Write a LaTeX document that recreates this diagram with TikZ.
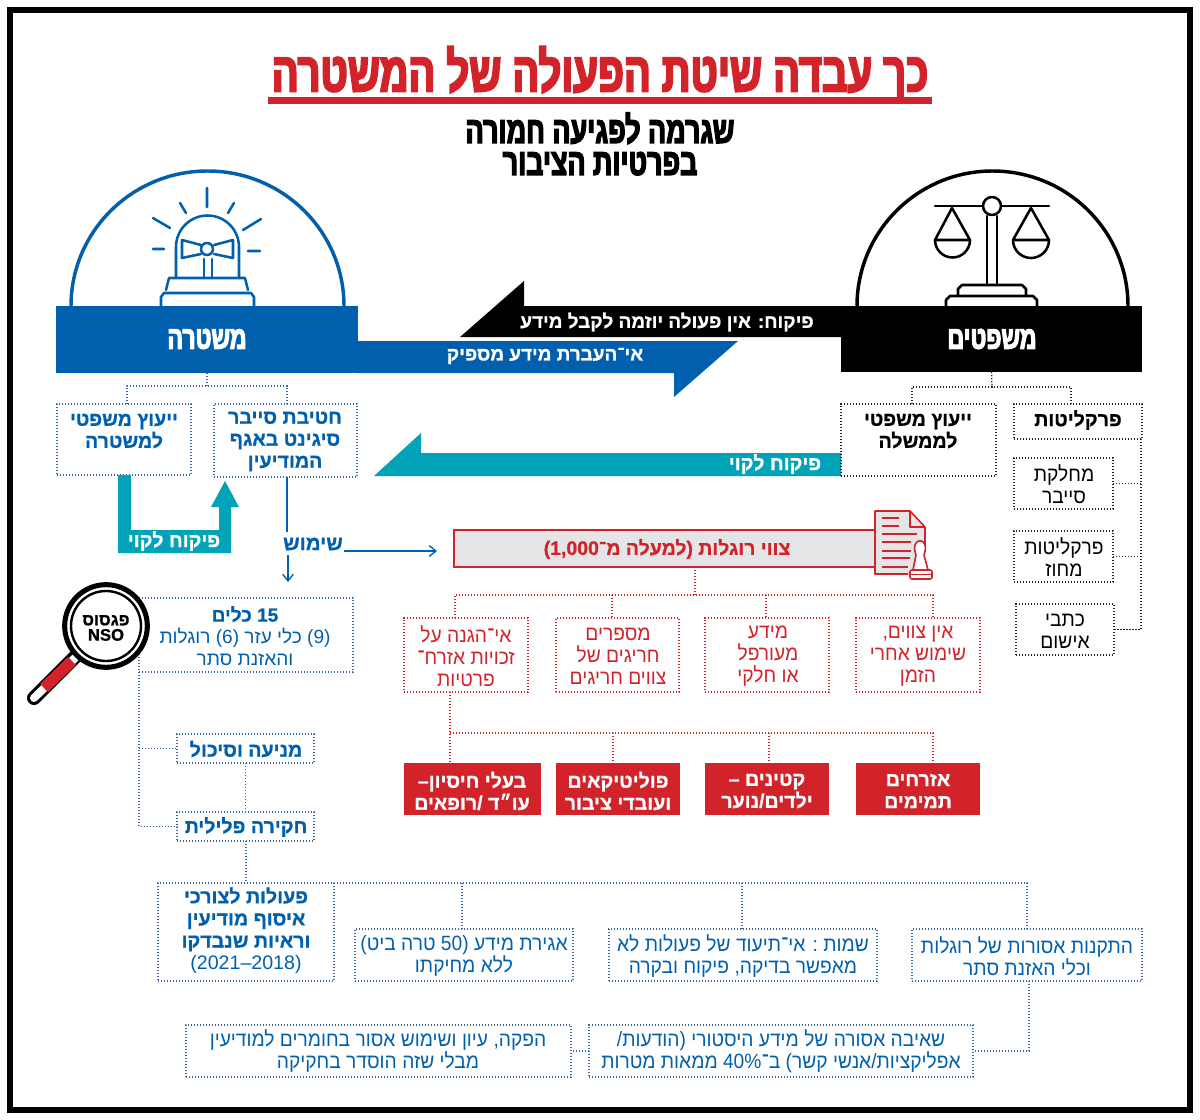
\documentclass[tikz,border=0pt]{standalone}
\usepackage{fontspec}
\TeXXeTstate=1
\setmainfont{Liberation Sans}
\newfontfamily\fheb[Script=Hebrew,BoldFeatures={FakeBold=0.8}]{Liberation Sans}
\newfontfamily\fhead[Script=Hebrew,BoldFeatures={FakeStretch=0.72,FakeBold=3.5}]{Liberation Sans}
\newfontfamily\fbody[Script=Hebrew,FakeStretch=0.93]{Liberation Sans}
\definecolor{polblue}{HTML}{0060AE}
\definecolor{redc}{HTML}{D2232A}
\definecolor{tealc}{HTML}{00A3B7}
\definecolor{grayc}{HTML}{E3E5E7}
\definecolor{dotblue}{HTML}{3A66A8}
\newcommand\RL[1]{\beginR #1\endR}
\newcommand\LR[1]{\beginL #1\endL}
% box from corner to corner in picture pixels
\newcommand\bx[6][]{%
  \pgfmathsetmacro\cxx{(#3+#5)/2}\pgfmathsetmacro\cyy{(#4+#6)/2}%
  \node[inner sep=0pt,outer sep=0pt,rectangle,minimum width={(#5-#3)*0.75pt},minimum height={(#6-#4)*0.75pt},#1] (#2) at (\cxx,\cyy) {};}
\tikzset{
  dotb/.style={draw=dotblue,line width=0.95pt,dash pattern=on 0.95pt off 1.3pt},
  dotk/.style={draw=black!85,line width=0.95pt,dash pattern=on 0.95pt off 1.3pt},
  dotr/.style={draw=redc,line width=0.95pt,dash pattern=on 0.95pt off 1.3pt},
  lab/.style={align=center,inner sep=0pt,outer sep=0pt},
  regt/.style={lab,font=\fbody\fontsize{15.5}{16.5}\selectfont},
  boldt/.style={lab,font=\fheb\bfseries\fontsize{14.7}{16.5}\selectfont},
  arrowt/.style={lab,font=\fheb\bfseries\fontsize{14.2}{16.5}\selectfont},
  headt/.style={lab,font=\fhead\bfseries\fontsize{24}{24}\selectfont},
  icon/.style={line width=1.9pt,line cap=round,line join=round},
  flow/.style={draw=polblue,line width=1pt},
  opentip/.style={-{Straight Barb[length=5pt,width=8pt,line width=1pt]}}
}
\usetikzlibrary{arrows.meta,calc}
\begin{document}
\begin{tikzpicture}[x=0.75pt,y=-0.75pt]
\useasboundingbox (0,0) rectangle (1200,1120);
\fill[white] (0,0) rectangle (1200,1120);
\draw[black,line width=4.9pt] (10,10) rectangle (1190,1110);
% title
\node[lab,font=\fhead\bfseries\fontsize{41.5}{42}\selectfont,text=redc] (title) at (600,74) {\RL{כך עבדה שיטת הפעולה של המשטרה}};
\fill[redc] (268,97) rectangle (932,104);
\node[lab,font=\fhead\bfseries\fontsize{28}{24}\selectfont] (sub) at (600,144) {\RL{שגרמה לפגיעה חמורה}\\[0pt]\RL{בפרטיות הציבור}};
% domes
\draw[polblue,line width=2.6pt] (71,306) arc[start angle=180,end angle=360,x radius=136.5,y radius=135];
\draw[black,line width=2.6pt] (857,306) arc[start angle=180,end angle=360,x radius=135.5,y radius=135];
% siren
\begin{scope}[polblue,icon]
\draw (207,188)--(207,207) (180,203)--(186,213) (228,213)--(234,203) (153,218)--(170,228) (243,230)--(261,219) (153,249)--(164,249) (248,251)--(260,251);
\draw (176,278) -- (176,247) arc[start angle=180,end angle=360,radius=31.5] -- (239,278);
\draw (166,290) -- (169,278) -- (245,278) -- (248,290);
\draw (161,306) -- (161,297) -- (164,293) -- (251,293) -- (254,297) -- (254,306);
\draw (201,245) -- (182,240) -- (182,258) -- (201,254);
\draw (214,245) -- (233,240) -- (233,258) -- (214,254);
\draw (207,249) circle[radius=6];
\draw (204,259) -- (204,278) (212,259) -- (212,278);
\end{scope}
% scales
\begin{scope}[black,icon]
\draw (935,206) -- (983,206) (1001,206) -- (1049,206);
\draw (992,206) circle[radius=9];
\draw (987,216) -- (987,285) (997,216) -- (997,285);
\draw (935,240) -- (952,208) -- (970,240) -- cycle;
\draw (935,240) arc[start angle=180,end angle=0,radius=17.5];
\draw (1013,240) -- (1031,208) -- (1049,240) -- cycle;
\draw (1013,240) arc[start angle=180,end angle=0,radius=18];
\draw (958,295) -- (958,289) -- (962,285) -- (1022,285) -- (1026,289) -- (1026,295);
\draw (946,306) -- (946,300) -- (950,296) -- (1033,296) -- (1037,300) -- (1037,306);
\end{scope}
% headers and broad arrows
\fill[black] (841,306) -- (524,306) -- (524,281) -- (460,337) -- (841,337) -- cycle;
\fill[polblue] (358,341) -- (738,341) -- (674,397) -- (674,373) -- (358,373) -- cycle;
\fill[tealc] (841,453) -- (421,453) -- (421,433) -- (374,476) -- (841,476) -- cycle;
\bx[fill=polblue]{police}{56}{306}{358}{373}
\bx[fill=black]{justice}{841}{306}{1142}{372}
\node[headt,text=white] (tpolice) at (207,339) {\RL{משטרה}};
\node[headt,text=white] (tjustice) at (992,339) {\RL{משפטים}};
\node[arrowt,text=white] (ablack) at (667,322) {\RL{פיקוח: אין פעולה יוזמה לקבל מידע}};
\node[arrowt,text=white] (ablue) at (545,356) {\RL{אי־העברת מידע מספיק}};
\node[boldt,text=white] (ateal) at (775,464) {\RL{פיקוח לקוי}};
% police sub-boxes
\bx[dotb]{adv}{57}{404}{191}{475}
\bx[dotb]{cyber}{214}{404}{357}{477}
\node[boldt,text=polblue] (tadv) at (124,431) {\RL{ייעוץ משפטי}\\\RL{למשטרה}};
\node[boldt,text=polblue] (tcyber) at (285,441.5) {\RL{חטיבת סייבר}\\\RL{סיגינט באגף}\\\RL{המודיעין}};
\coordinate (pj) at (207,386);
\draw[dotb] (police.south) -- (pj);
\draw[dotb] (adv.north -| 127,0) |- (pj) -| (287,404);
% justice sub-boxes
\bx[dotk]{gov}{841}{404}{996}{476}
\bx[dotk]{prosec}{1014}{404}{1142}{439}
\bx[dotk]{cyb2}{1014}{458}{1113}{509}
\bx[dotk]{dist}{1014}{531}{1113}{582}
\bx[dotk]{indict}{1016}{604}{1114}{655}
\node[boldt] (tgov) at (918,431) {\RL{ייעוץ משפטי}\\\RL{לממשלה}};
\node[boldt] (tprosec) at (1078,420) {\RL{פרקליטות}};
\node[regt] (tcyb2) at (1064,484) {\RL{מחלקת}\\\RL{סייבר}};
\node[regt] (tdist) at (1064,557) {\RL{פרקליטות}\\\RL{מחוז}};
\node[regt] (tindict) at (1065,631) {\RL{כתבי}\\\RL{אישום}};
\coordinate (jj) at (992,387);
\draw[dotk] (justice.south) -- (jj);
\draw[dotk] (gov.north -| 912,0) |- (jj) -| (1071,404);
\draw[dotk] (1141,439) |- (indict.east);
\draw[dotk] (cyb2.east) -- (cyb2.east -| 1141,0);
\draw[dotk] (dist.east) -- (dist.east -| 1141,0);
% teal U arrow
\fill[tealc] (118,475) -- (131,475) -- (131,530) -- (219,530) -- (219,507) -- (211,507) -- (225,481) -- (239,507) -- (231,507) -- (231,553) -- (118,553) -- cycle;
\node[boldt,text=white] (tu) at (174,541) {\RL{פיקוח לקוי}};
% use
\node[boldt,text=polblue,font=\fheb\bfseries\fontsize{15.3}{16.5}\selectfont] (use) at (313,544) {\RL{שימוש}};
\coordinate (usedown) at (288,582);
\draw[flow] (cyber.south -| 287,0) -- (287,532);
\draw[flow,opentip] (288,555) -- (usedown);
% spyware orders bar
\bx[fill=grayc,draw=redc,line width=1pt]{orders}{454}{530}{875}{567}
\node[boldt,text=redc,font=\fheb\bfseries\fontsize{14.6}{15}\selectfont] (torders) at (667,549) {\RL{צווי רוגלות (למעלה מ־\LR{1,000})}};
\draw[flow,opentip] (344,551) -- (437,551);
% document icon
\begin{scope}[redc,line width=1.2pt,line join=round]
\fill[grayc] (875,511) -- (910,511) -- (925,527) -- (925,574) -- (875,574) -- cycle;
\draw (925,552) -- (925,527) -- (910,511) -- (875,511) -- (875,574) -- (908,574);
\draw (910,511) -- (910,527) -- (925,527);
\draw (882,518) -- (899,518) (882,526) -- (899,526) (882,534) -- (917,534) (882,542) -- (911,542) (882,551) -- (911,551) (882,558) -- (910,558) (882,567) -- (908,567);
\fill[white] (913,570) -- (916,555) .. controls (909,536) and (931,536) .. (924,555) -- (928,570) -- cycle;
\draw (913,570) -- (916,555) .. controls (909,536) and (931,536) .. (924,555) -- (928,570);
\draw[fill=white,rounded corners=1.5pt] (910,570) rectangle (932,579);
\draw (910,574.5) -- (932,574.5);
\end{scope}
% red boxes level 1
\bx[dotr]{r1}{404}{618}{528}{692}
\bx[dotr]{r2}{556}{618}{679}{692}
\bx[dotr]{r3}{705}{618}{829}{692}
\bx[dotr]{r4}{856}{618}{980}{692}
\node[regt,text=redc] (tr1) at (466,656) {\RL{אי־הגנה על}\\\RL{זכויות אזרח־}\\\RL{פרטיות}};
\node[regt,text=redc] (tr2) at (618,656) {\RL{מספרים}\\\RL{חריגים של}\\\RL{צווים חריגים}};
\node[regt,text=redc] (tr3) at (768,656) {\RL{מידע}\\\RL{מעורפל}\\\RL{או חלקי}};
\node[regt,text=redc] (tr4) at (918,656) {\RL{אין צווים,}\\\RL{שימוש אחרי}\\\RL{הזמן}};
\coordinate (rj) at (695,595);
\draw[dotr] (orders.south -| rj) -- (rj);
\draw[dotr] (455,618) |- (rj) -| (933,618);
\draw[dotr] (612,595) -- (612,618);
\draw[dotr] (766,595) -- (766,618);
% red boxes level 2
\bx[fill=redc]{f1}{404}{763}{541}{815}
\bx[fill=redc]{f2}{556}{763}{680}{815}
\bx[fill=redc]{f3}{705}{763}{829}{815}
\bx[fill=redc]{f4}{856}{763}{980}{815}
\node[boldt,text=white] (tf1) at (472,791) {\RL{בעלי חיסיון–}\\\RL{עו״ד /רופאים}};
\node[boldt,text=white] (tf2) at (618,791) {\RL{פוליטיקאים}\\\RL{ועובדי ציבור}};
\node[boldt,text=white] (tf3) at (767,791) {\RL{קטינים –}\\\RL{ילדים/נוער}};
\node[boldt,text=white] (tf4) at (918,791) {\RL{אזרחים}\\\RL{תמימים}};
\coordinate (rk) at (450,733);
\draw[dotr] (450,692) -- (450,763);
\draw[dotr] (rk) -- (933,733) -- (933,763);
\draw[dotr] (613,733) -- (613,763);
\draw[dotr] (769,733) -- (769,763);
% tools
\bx[dotb]{tools}{139}{598}{353}{672}
\node[lab,text=polblue,font=\fheb\fontsize{14.3}{16.5}\selectfont] (ttools) at (245,636) {\RL{\textbf{15 כלים}}\\\RL{(9) כלי עזר (6) רוגלות}\\\RL{והאזנת סתר}};
\bx[dotb]{prev}{177}{734}{314}{763}
\bx[dotb]{crim}{177}{812}{314}{841}
\node[boldt,text=polblue] (tprev) at (246,749) {\RL{מניעה וסיכול}};
\node[boldt,text=polblue] (tcrim) at (246,827) {\RL{חקירה פלילית}};
\draw[dotb] (139,672) |- (crim.west);
\draw[dotb] (prev.west -| 139,0) -- (prev.west);
\draw[dotb] (prev.south) -- (crim.north);
% bottom boxes
\bx[dotb]{act}{158}{883}{334}{981}
\bx[dotb]{b1}{355}{929}{573}{981}
\bx[dotb]{b2}{609}{929}{877}{981}
\bx[dotb]{b3}{912}{929}{1142}{981}
\bx[dotb]{b4}{589}{1025}{973}{1077}
\bx[dotb]{b5}{186}{1025}{571}{1077}
\draw[dotb] (crim.south -| 246,0) -- (246,883);
\draw[dotb] (act.north east) -- (1027,883) -- (1027,929);
\draw[dotb] (462,883) -- (462,929);
\draw[dotb] (742,883) -- (742,929);
\draw[dotb] (1029,981) |- (b4.east);
\draw[dotb] (b4.west) -- (b5.east);
\node[lab,text=polblue,font=\fheb\fontsize{14.7}{16.6}\selectfont] (tact) at (246,930.5) {\RL{\textbf{פעולות לצורכי}}\\\RL{\textbf{איסוף מודיעין}}\\\RL{\textbf{וראיות שנבדקו}}\\\RL{(2018–2021)}};
\node[regt,text=polblue] (tb1) at (464,956) {\RL{אגירת מידע (50 טרה ביט)}\\\RL{ללא מחיקתו}};
\node[regt,text=polblue] (tb2) at (743,956) {\RL{שמות : אי־תיעוד של פעולות לא}\\\RL{מאפשר בדיקה, פיקוח ובקרה}};
\node[regt,text=polblue] (tb3) at (1027,956) {\RL{התקנות אסורות של רוגלות}\\\RL{וכלי האזנת סתר}};
\node[regt,text=polblue] (tb4) at (781,1051) {\RL{שאיבה אסורה של מידע היסטורי (הודעות/}\\\RL{אפליקציות/אנשי קשר) ב־40\% ממאות מטרות}};
\node[regt,text=polblue] (tb5) at (378,1051) {\RL{הפקה, עיון ושימוש אסור בחומרים למודיעין}\\\RL{מבלי שזה הוסדר בחקיקה}};
% magnifier
\draw[black,line width=10.5pt,line cap=round] (80,652) -- (34,698);
\draw[white,line width=6pt,line cap=round] (79,654) -- (34,698);
\draw[redc,line width=8.5pt] (72,661) -- (44,688);
\node[circle,draw=black,line width=3.8pt,fill=white,minimum size=62pt,inner sep=0pt] (lens) at (106,626) {};
\draw[black,line width=1.8pt] (106,626) circle[radius=35];
\node[lab,font=\fheb\bfseries\fontsize{12.5}{12.5}\selectfont] (tlens) at (106,628) {\RL{פגסוס}\\[-1pt]NSO};
\end{tikzpicture}
\end{document}
